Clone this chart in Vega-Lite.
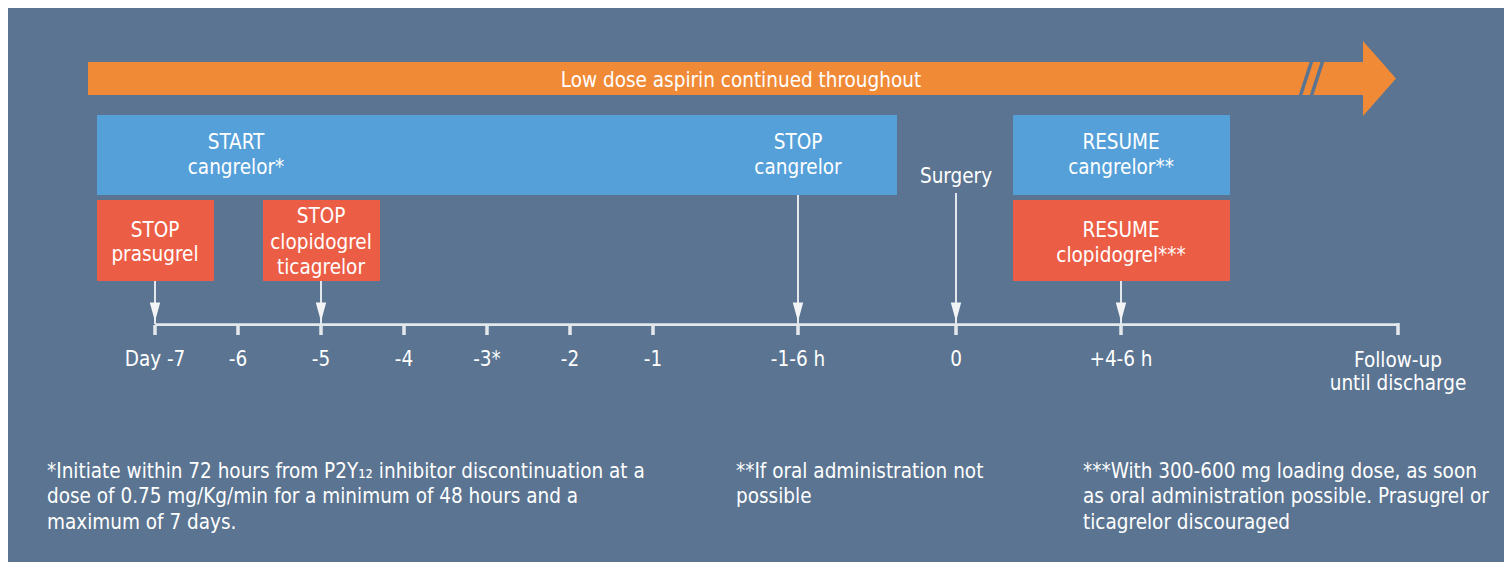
{
  "$schema": "https://vega.github.io/schema/vega-lite/v6.json",
  "width": 1504,
  "height": 562,
  "autosize": {"type": "fit", "contains": "padding"},
  "padding": 0,
  "background": "#ffffff",
  "config": {"view": {"stroke": null}},
  "datasets": {
    "boxes": [
      {"name": "panel", "x": 8, "x2": 1504, "y": 8, "y2": 562, "fill": "panel"},
      {"name": "aspirin", "x": 88, "x2": 1366, "y": 62, "y2": 95, "fill": "orange"},
      {"name": "cangrelor", "x": 97, "x2": 897, "y": 115, "y2": 195, "fill": "blue"},
      {"name": "resume cangrelor", "x": 1013, "x2": 1230, "y": 115, "y2": 195, "fill": "blue"},
      {"name": "stop prasugrel", "x": 97, "x2": 214, "y": 200, "y2": 281, "fill": "red"},
      {"name": "stop clopidogrel", "x": 263, "x2": 380, "y": 200, "y2": 281, "fill": "red"},
      {"name": "resume clopidogrel", "x": 1013, "x2": 1230, "y": 200, "y2": 281, "fill": "red"}
    ],
    "head": [
      {"x": 1363, "y": 41},
      {"x": 1396, "y": 78.5},
      {"x": 1363, "y": 116}
    ],
    "lines": [
      {"x": 155, "y": 281, "x2": 155, "y2": 324, "kind": "stem"},
      {"x": 321, "y": 281, "x2": 321, "y2": 324, "kind": "stem"},
      {"x": 798, "y": 195, "x2": 798, "y2": 324, "kind": "stem"},
      {"x": 956, "y": 193, "x2": 956, "y2": 324, "kind": "stem"},
      {"x": 1121, "y": 281, "x2": 1121, "y2": 324, "kind": "stem"},
      {"x": 155, "y": 324.5, "x2": 1398, "y2": 324.5, "kind": "axis"},
      {"x": 155, "y": 325, "x2": 155, "y2": 335, "kind": "tick"},
      {"x": 238, "y": 325, "x2": 238, "y2": 335, "kind": "tick"},
      {"x": 321, "y": 325, "x2": 321, "y2": 335, "kind": "tick"},
      {"x": 404, "y": 325, "x2": 404, "y2": 335, "kind": "tick"},
      {"x": 487, "y": 325, "x2": 487, "y2": 335, "kind": "tick"},
      {"x": 570, "y": 325, "x2": 570, "y2": 335, "kind": "tick"},
      {"x": 653, "y": 325, "x2": 653, "y2": 335, "kind": "tick"},
      {"x": 798, "y": 325, "x2": 798, "y2": 335, "kind": "tick"},
      {"x": 956, "y": 325, "x2": 956, "y2": 335, "kind": "tick"},
      {"x": 1121, "y": 325, "x2": 1121, "y2": 335, "kind": "tick"},
      {"x": 1398, "y": 323, "x2": 1398, "y2": 335, "kind": "tick"}
    ],
    "slashes": [
      {"x": 1312, "y": 60, "x2": 1300, "y2": 97},
      {"x": 1323, "y": 60, "x2": 1311, "y2": 97}
    ],
    "arrowheads": [
      {"x": 155, "y": 312},
      {"x": 321, "y": 312},
      {"x": 798, "y": 312},
      {"x": 956, "y": 312},
      {"x": 1121, "y": 312}
    ],
    "centered": [
      {"x": 741, "y": 79, "text": "Low dose aspirin continued throughout"},
      {"x": 236, "y": 141, "text": "START"},
      {"x": 236, "y": 166, "text": "cangrelor*"},
      {"x": 798, "y": 141, "text": "STOP"},
      {"x": 798, "y": 166, "text": "cangrelor"},
      {"x": 956, "y": 175, "text": "Surgery"},
      {"x": 1121, "y": 141, "text": "RESUME"},
      {"x": 1121, "y": 166, "text": "cangrelor**"},
      {"x": 155, "y": 229, "text": "STOP"},
      {"x": 155, "y": 253, "text": "prasugrel"},
      {"x": 321, "y": 215, "text": "STOP"},
      {"x": 321, "y": 241, "text": "clopidogrel"},
      {"x": 321, "y": 266, "text": "ticagrelor"},
      {"x": 1121, "y": 229, "text": "RESUME"},
      {"x": 1121, "y": 254, "text": "clopidogrel***"},
      {"x": 155, "y": 358, "text": "Day -7"},
      {"x": 238, "y": 358, "text": "-6"},
      {"x": 321, "y": 358, "text": "-5"},
      {"x": 404, "y": 358, "text": "-4"},
      {"x": 487, "y": 358, "text": "-3*"},
      {"x": 570, "y": 358, "text": "-2"},
      {"x": 653, "y": 358, "text": "-1"},
      {"x": 798, "y": 358, "text": "-1-6 h"},
      {"x": 956, "y": 358, "text": "0"},
      {"x": 1121, "y": 358, "text": "+4-6 h"},
      {"x": 1398, "y": 359, "text": "Follow-up"},
      {"x": 1398, "y": 382, "text": "until discharge"}
    ],
    "notes": [
      {"x": 47, "y": 470, "text": "*Initiate within 72 hours from P2Y₁₂ inhibitor discontinuation at a"},
      {"x": 47, "y": 495, "text": "dose of 0.75 mg/Kg/min for a minimum of 48 hours and a"},
      {"x": 47, "y": 521, "text": "maximum of 7 days."},
      {"x": 736, "y": 470, "text": "**If oral administration not"},
      {"x": 736, "y": 495, "text": "possible"},
      {"x": 1083, "y": 470, "text": "***With 300-600 mg loading dose, as soon"},
      {"x": 1083, "y": 495, "text": "as oral administration possible. Prasugrel or"},
      {"x": 1083, "y": 521, "text": "ticagrelor discouraged"}
    ]
  },
  "layer": [
    {
      "data": {"name": "boxes"},
      "mark": {"type": "rect"},
      "encoding": {
        "x": {"field": "x", "type": "quantitative", "scale": {"domain": [0, 1504], "nice": false, "zero": false}, "axis": null},
        "x2": {"field": "x2"},
        "y": {"field": "y", "type": "quantitative", "scale": {"domain": [0, 562], "nice": false, "zero": false, "reverse": true}, "axis": null},
        "y2": {"field": "y2"},
        "color": {"field": "fill", "type": "nominal", "legend": null,
          "scale": {"domain": ["panel", "orange", "blue", "red"], "range": ["#5a7491", "#f08a37", "#55a0d9", "#ec5d45"]}}
      }
    },
    {
      "data": {"name": "head"},
      "mark": {"type": "area", "color": "#f08a37", "orient": "vertical"},
      "encoding": {
        "y": {"field": "y", "type": "quantitative"},
        "x": {"field": "x", "type": "quantitative"},
        "x2": {"datum": 1363}
      }
    },
    {
      "data": {"name": "slashes"},
      "mark": {"type": "rule", "color": "#5a7491", "strokeWidth": 3.5},
      "encoding": {
        "x": {"field": "x", "type": "quantitative"},
        "y": {"field": "y", "type": "quantitative"},
        "x2": {"field": "x2"},
        "y2": {"field": "y2"}
      }
    },
    {
      "data": {"name": "lines"},
      "mark": {"type": "rule", "color": "#e3e8ed"},
      "encoding": {
        "x": {"field": "x", "type": "quantitative"},
        "y": {"field": "y", "type": "quantitative"},
        "x2": {"field": "x2"},
        "y2": {"field": "y2"},
        "strokeWidth": {"field": "kind", "type": "nominal", "legend": null,
          "scale": {"domain": ["stem", "axis", "tick"], "range": [2, 3.5, 2]}}
      }
    },
    {
      "data": {"name": "arrowheads"},
      "mark": {"type": "point", "filled": true, "color": "#f2f4f6", "opacity": 1,
        "shape": "M-0.55,-1L0.55,-1L0,1Z", "size": 360},
      "encoding": {
        "x": {"field": "x", "type": "quantitative"},
        "y": {"field": "y", "type": "quantitative"}
      }
    },
    {
      "data": {"name": "centered"},
      "mark": {"type": "text", "color": "#ffffff", "baseline": "middle", "align": "center", "fontSize": 20.5, "dy": 1.5,
        "font": "DejaVu Sans Condensed"},
      "encoding": {
        "x": {"field": "x", "type": "quantitative"},
        "y": {"field": "y", "type": "quantitative"},
        "text": {"field": "text"}
      }
    },
    {
      "data": {"name": "notes"},
      "mark": {"type": "text", "color": "#ffffff", "baseline": "middle", "align": "left", "fontSize": 20.5, "dy": 1.5,
        "font": "DejaVu Sans Condensed"},
      "encoding": {
        "x": {"field": "x", "type": "quantitative"},
        "y": {"field": "y", "type": "quantitative"},
        "text": {"field": "text"}
      }
    }
  ]
}
